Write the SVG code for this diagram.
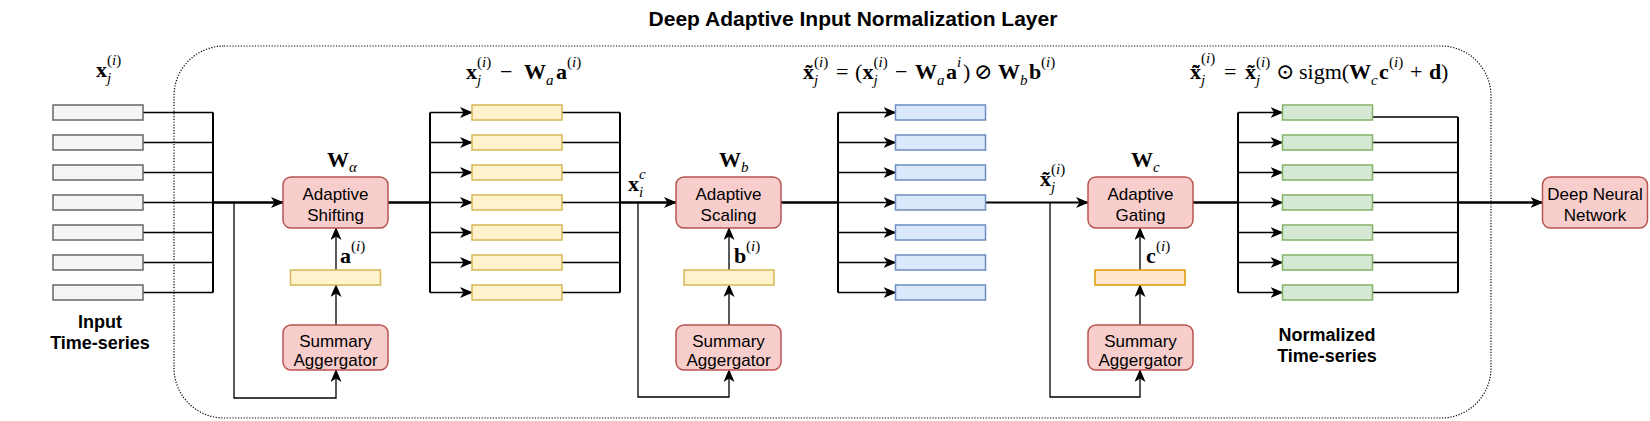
<svg xmlns="http://www.w3.org/2000/svg" width="1650" height="421" viewBox="0 0 1650 421">
<defs>
<style>
.bg{fill:#fff}
.gray{fill:#f5f5f5;stroke:#666;stroke-width:1.5}
.yel{fill:#fff2cc;stroke:#d6b656;stroke-width:1.5}
.org{fill:#ffe6cc;stroke:#d79b00;stroke-width:1.5}
.blue{fill:#dae8fc;stroke:#6c8ebf;stroke-width:1.5}
.green{fill:#d5e8d4;stroke:#82b366;stroke-width:1.5}
.node{fill:#f8cecc;stroke:#b85450;stroke-width:1.5}
.t{font-family:"Liberation Sans",Arial,sans-serif;font-size:17px;fill:#000;text-anchor:middle}
.tb{font-family:"Liberation Sans",Arial,sans-serif;font-size:18px;font-weight:bold;fill:#000;text-anchor:middle}
.title{font-size:21px}
.m{font-family:"Liberation Serif","DejaVu Serif",serif;font-size:22px;fill:#000}
.b{font-weight:bold}
.i{font-style:italic}
.s{font-size:15px}
.thin{fill:none;stroke:#000;stroke-width:1.3}
.bus{fill:none;stroke:#000;stroke-width:2}
.thick{fill:none;stroke:#000;stroke-width:2.5}
.dot{fill:none;stroke:#000;stroke-width:1.2;stroke-dasharray:1.2 1.6}
</style>
<marker id="ah" viewBox="0 0 13 11" refX="12" refY="5.5" markerWidth="13" markerHeight="11" markerUnits="userSpaceOnUse" orient="auto">
<path d="M0,0 L13,5.5 L0,11 L3.5,5.5 z" fill="#000"/>
</marker>
</defs>
<rect class="bg" width="1650" height="421"/>

<text class="tb title" x="853" y="26">Deep Adaptive Input Normalization Layer</text>

<rect id="container" class="dot" x="174" y="46" width="1317" height="372" rx="50"/>

<g id="connectors">
<path class="thin" d="M143,112.5H213M143,142.5H213M143,172.5H213M143,202.5H213M143,232.5H213M143,262.5H213M143,292.5H213"/>
<path class="bus" d="M213,112.5V292.5"/>
<path class="thick" d="M213,202.5H283" marker-end="url(#ah)"/>
<path class="thin" d="M234,202.5V398H336V370" marker-end="url(#ah)"/>
<path class="thin" d="M336,325V285" marker-end="url(#ah)"/>
<path class="thin" d="M336,270V228" marker-end="url(#ah)"/>
<path class="thick" d="M388,202.5H430"/>
<path class="bus" d="M430,112.5V292.5"/>
<path class="thin" d="M430,112.5H472" marker-end="url(#ah)"/>
<path class="thin" d="M430,142.5H472" marker-end="url(#ah)"/>
<path class="thin" d="M430,172.5H472" marker-end="url(#ah)"/>
<path class="thin" d="M430,202.5H472" marker-end="url(#ah)"/>
<path class="thin" d="M430,232.5H472" marker-end="url(#ah)"/>
<path class="thin" d="M430,262.5H472" marker-end="url(#ah)"/>
<path class="thin" d="M430,292.5H472" marker-end="url(#ah)"/>
<path class="thin" d="M562,112.5H620M562,142.5H620M562,172.5H620M562,202.5H620M562,232.5H620M562,262.5H620M562,292.5H620"/>
<path class="bus" d="M620,112.5V292.5"/>
<path class="thick" d="M620,202.5H676" marker-end="url(#ah)"/>
<path class="thin" d="M638,202.5V397H729V370" marker-end="url(#ah)"/>
<path class="thin" d="M729,325V285" marker-end="url(#ah)"/>
<path class="thin" d="M729,270V228" marker-end="url(#ah)"/>
<path class="thick" d="M781,202.5H838"/>
<path class="bus" d="M838,112.5V292.5"/>
<path class="thin" d="M838,112.5H895.5" marker-end="url(#ah)"/>
<path class="thin" d="M838,142.5H895.5" marker-end="url(#ah)"/>
<path class="thin" d="M838,172.5H895.5" marker-end="url(#ah)"/>
<path class="thin" d="M838,202.5H895.5" marker-end="url(#ah)"/>
<path class="thin" d="M838,232.5H895.5" marker-end="url(#ah)"/>
<path class="thin" d="M838,262.5H895.5" marker-end="url(#ah)"/>
<path class="thin" d="M838,292.5H895.5" marker-end="url(#ah)"/>
<path class="bus" d="M985.5,202.5H1088" marker-end="url(#ah)"/>
<path class="thin" d="M1050,202.5V397H1140V370" marker-end="url(#ah)"/>
<path class="thin" d="M1140,325V285" marker-end="url(#ah)"/>
<path class="thin" d="M1140,270V228" marker-end="url(#ah)"/>
<path class="thick" d="M1193,202.5H1238"/>
<path class="bus" d="M1238,112.5V292.5"/>
<path class="thin" d="M1238,112.5H1282.5" marker-end="url(#ah)"/>
<path class="thin" d="M1238,142.5H1282.5" marker-end="url(#ah)"/>
<path class="thin" d="M1238,172.5H1282.5" marker-end="url(#ah)"/>
<path class="thin" d="M1238,202.5H1282.5" marker-end="url(#ah)"/>
<path class="thin" d="M1238,232.5H1282.5" marker-end="url(#ah)"/>
<path class="thin" d="M1238,262.5H1282.5" marker-end="url(#ah)"/>
<path class="thin" d="M1238,292.5H1282.5" marker-end="url(#ah)"/>
<path class="thin" d="M1372.5,117H1458M1372.5,142.5H1458M1372.5,172.5H1458M1372.5,202.5H1458M1372.5,232.5H1458M1372.5,262.5H1458M1372.5,292.5H1458"/>
<path class="bus" d="M1458,117V292.5"/>
<path class="thick" d="M1458,202.5H1542.5" marker-end="url(#ah)"/>
</g>

<g id="input-series">
<rect class="gray" x="53" y="105" width="90" height="15"/>
<rect class="gray" x="53" y="135" width="90" height="15"/>
<rect class="gray" x="53" y="165" width="90" height="15"/>
<rect class="gray" x="53" y="195" width="90" height="15"/>
<rect class="gray" x="53" y="225" width="90" height="15"/>
<rect class="gray" x="53" y="255" width="90" height="15"/>
<rect class="gray" x="53" y="285" width="90" height="15"/>
<text class="m"><tspan class="b" x="96" y="77">x</tspan><tspan class="s i" x="107" y="83">j</tspan><tspan class="s" x="107" y="65">(<tspan class="i">i</tspan>)</tspan></text>
<text class="tb" x="100" y="328">Input</text>
<text class="tb" x="100" y="349">Time-series</text>
</g>

<g id="shifted-series">
<rect class="yel" x="472" y="105" width="90" height="15"/>
<rect class="yel" x="472" y="135" width="90" height="15"/>
<rect class="yel" x="472" y="165" width="90" height="15"/>
<rect class="yel" x="472" y="195" width="90" height="15"/>
<rect class="yel" x="472" y="225" width="90" height="15"/>
<rect class="yel" x="472" y="255" width="90" height="15"/>
<rect class="yel" x="472" y="285" width="90" height="15"/>
<text class="m"><tspan class="b" x="466" y="79">x</tspan><tspan class="s i" x="477" y="85">j</tspan><tspan class="s" x="477" y="67">(<tspan class="i">i</tspan>)</tspan><tspan x="500" y="79">−</tspan><tspan class="b" x="524" y="79">W</tspan><tspan class="s i" x="546" y="85">a</tspan><tspan class="b" x="556" y="79">a</tspan><tspan class="s" x="567" y="67">(<tspan class="i">i</tspan>)</tspan></text>
</g>

<g id="scaled-series">
<rect class="blue" x="895.5" y="105" width="90" height="15"/>
<rect class="blue" x="895.5" y="135" width="90" height="15"/>
<rect class="blue" x="895.5" y="165" width="90" height="15"/>
<rect class="blue" x="895.5" y="195" width="90" height="15"/>
<rect class="blue" x="895.5" y="225" width="90" height="15"/>
<rect class="blue" x="895.5" y="255" width="90" height="15"/>
<rect class="blue" x="895.5" y="285" width="90" height="15"/>
<text class="m"><tspan class="b" x="803" y="79">x̃</tspan><tspan class="s i" x="814" y="85">j</tspan><tspan class="s" x="814" y="67">(<tspan class="i">i</tspan>)</tspan><tspan x="836" y="79">=</tspan><tspan x="855" y="79">(</tspan><tspan class="b" x="862.5" y="79">x</tspan><tspan class="s i" x="873.5" y="85">j</tspan><tspan class="s" x="873.5" y="67">(<tspan class="i">i</tspan>)</tspan><tspan x="895" y="79">−</tspan><tspan class="b" x="915" y="79">W</tspan><tspan class="s i" x="937" y="85">a</tspan><tspan class="b" x="946" y="79">a</tspan><tspan class="s i" x="957" y="67">i</tspan><tspan x="963" y="79">)</tspan><tspan x="974" y="79">⊘</tspan><tspan class="b" x="998" y="79">W</tspan><tspan class="s i" x="1020" y="85">b</tspan><tspan class="b" x="1029" y="79">b</tspan><tspan class="s" x="1041" y="67">(<tspan class="i">i</tspan>)</tspan></text>
</g>

<g id="normalized-series">
<rect class="green" x="1282.5" y="105" width="90" height="15"/>
<rect class="green" x="1282.5" y="135" width="90" height="15"/>
<rect class="green" x="1282.5" y="165" width="90" height="15"/>
<rect class="green" x="1282.5" y="195" width="90" height="15"/>
<rect class="green" x="1282.5" y="225" width="90" height="15"/>
<rect class="green" x="1282.5" y="255" width="90" height="15"/>
<rect class="green" x="1282.5" y="285" width="90" height="15"/>
<text class="m"><tspan class="b" x="1190" y="79">x̃̃</tspan><tspan class="s i" x="1201" y="85">j</tspan><tspan class="s" x="1201" y="63">(<tspan class="i">i</tspan>)</tspan><tspan x="1224" y="79">=</tspan><tspan class="b" x="1245" y="79">x̃</tspan><tspan class="s i" x="1256" y="85">j</tspan><tspan class="s" x="1256" y="67">(<tspan class="i">i</tspan>)</tspan><tspan x="1276" y="79">⊙</tspan><tspan x="1299" y="79">sigm(</tspan><tspan class="b" x="1349" y="79">W</tspan><tspan class="s i" x="1371" y="85">c</tspan><tspan class="b" x="1379" y="79">c</tspan><tspan class="s" x="1389" y="67">(<tspan class="i">i</tspan>)</tspan><tspan x="1410" y="79">+</tspan><tspan class="b" x="1429" y="79">d</tspan><tspan x="1441" y="79">)</tspan></text>
<text class="tb" x="1327" y="341">Normalized</text>
<text class="tb" x="1327" y="362">Time-series</text>
</g>

<g id="adaptive-shifting">
<rect class="node" x="283" y="177" width="105" height="51" rx="8"/>
<text class="t" x="335.5" y="200">Adaptive</text>
<text class="t" x="335.5" y="221">Shifting</text>
<text class="m"><tspan class="b" x="327" y="167">W</tspan><tspan class="s i" x="349" y="172">α</tspan></text>
</g>
<g id="shift-vector">
<rect class="yel" x="290.5" y="270" width="90" height="15"/>
<text class="m"><tspan class="b" x="340" y="263">a</tspan><tspan class="s" x="351" y="251">(<tspan class="i">i</tspan>)</tspan></text>
</g>
<g id="summary-1">
<rect class="node" x="283" y="325" width="105" height="45" rx="8"/>
<text class="t" x="335.5" y="347">Summary</text>
<text class="t" x="335.5" y="366">Aggergator</text>
</g>

<g id="adaptive-scaling">
<rect class="node" x="676" y="177" width="105" height="51" rx="8"/>
<text class="t" x="728.5" y="200">Adaptive</text>
<text class="t" x="728.5" y="221">Scaling</text>
<text class="m"><tspan class="b" x="719" y="167">W</tspan><tspan class="s i" x="741" y="172">b</tspan></text>
<text class="m"><tspan class="b" x="628" y="191">x</tspan><tspan class="s i" x="639" y="197">i</tspan><tspan class="s i" x="639" y="179">c</tspan></text>
</g>
<g id="scale-vector">
<rect class="yel" x="684" y="270" width="90" height="15"/>
<text class="m"><tspan class="b" x="734" y="263">b</tspan><tspan class="s" x="746" y="251">(<tspan class="i">i</tspan>)</tspan></text>
</g>
<g id="summary-2">
<rect class="node" x="676" y="325" width="105" height="45" rx="8"/>
<text class="t" x="728.5" y="347">Summary</text>
<text class="t" x="728.5" y="366">Aggergator</text>
</g>

<g id="adaptive-gating">
<rect class="node" x="1088" y="177" width="105" height="51" rx="8"/>
<text class="t" x="1140.5" y="200">Adaptive</text>
<text class="t" x="1140.5" y="221">Gating</text>
<text class="m"><tspan class="b" x="1131" y="167">W</tspan><tspan class="s i" x="1153" y="172">c</tspan></text>
<text class="m"><tspan class="b" x="1040" y="186">x̃</tspan><tspan class="s i" x="1051" y="192">j</tspan><tspan class="s" x="1051" y="174">(<tspan class="i">i</tspan>)</tspan></text>
</g>
<g id="gate-vector">
<rect class="org" x="1095" y="270" width="90" height="15"/>
<text class="m"><tspan class="b" x="1146" y="263">c</tspan><tspan class="s" x="1156" y="251">(<tspan class="i">i</tspan>)</tspan></text>
</g>
<g id="summary-3">
<rect class="node" x="1088" y="325" width="105" height="45" rx="8"/>
<text class="t" x="1140.5" y="347">Summary</text>
<text class="t" x="1140.5" y="366">Aggergator</text>
</g>

<g id="deep-neural-network">
<rect class="node" x="1542.5" y="177" width="105" height="51" rx="8"/>
<text class="t" x="1595" y="200">Deep Neural</text>
<text class="t" x="1595" y="221">Network</text>
</g>
</svg>
